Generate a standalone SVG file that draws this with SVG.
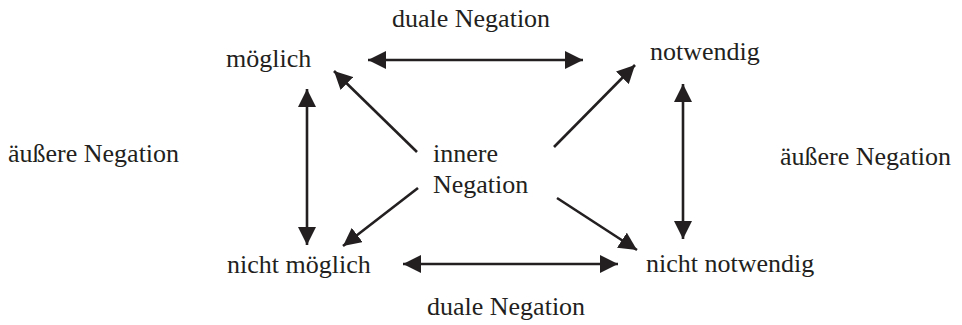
<svg xmlns="http://www.w3.org/2000/svg" width="962" height="325" viewBox="0 0 962 325">
<defs>
<style>
text{font-family:"Liberation Serif","Times New Roman",serif;font-size:26px;fill:#231f20}
.c line{stroke:#231f20;stroke-width:2.6;fill:none}
</style>
<marker id="ah" viewBox="0 0 18 18" refX="18" refY="9" markerWidth="18" markerHeight="18" markerUnits="userSpaceOnUse" orient="auto-start-reverse">
<path d="M0,0 L18,9 L0,18 z" fill="#231f20"/>
</marker>
</defs>
<rect width="962" height="325" fill="#fff"/>
<g id="n-moeglich"><text x="226" y="67">möglich</text></g>
<g id="n-notwendig"><text x="650" y="60">notwendig</text></g>
<g id="n-nicht-moeglich"><text x="227" y="273">nicht möglich</text></g>
<g id="n-nicht-notwendig"><text x="646" y="272">nicht notwendig</text></g>
<g id="n-innere"><text x="433" y="162">innere</text><text x="433" y="193">Negation</text></g>
<g id="l-dual-top"><text x="392" y="27">duale Negation</text></g>
<g id="l-dual-bottom"><text x="427" y="315">duale Negation</text></g>
<g id="l-aeussere-left"><text x="8" y="162">äußere Negation</text></g>
<g id="l-aeussere-right"><text x="780" y="165">äußere Negation</text></g>
<g id="connectors" class="c">
<line x1="368" y1="60" x2="583" y2="60" marker-start="url(#ah)" marker-end="url(#ah)"/>
<line x1="403" y1="264" x2="618" y2="264" marker-start="url(#ah)" marker-end="url(#ah)"/>
<line x1="307" y1="89" x2="307" y2="245" marker-start="url(#ah)" marker-end="url(#ah)"/>
<line x1="683" y1="84" x2="683" y2="239" marker-start="url(#ah)" marker-end="url(#ah)"/>
<line x1="417" y1="152" x2="334" y2="71" marker-end="url(#ah)"/>
<line x1="554" y1="147" x2="635" y2="65" marker-end="url(#ah)"/>
<line x1="418" y1="188" x2="343" y2="246" marker-end="url(#ah)"/>
<line x1="557" y1="198" x2="637" y2="250" marker-end="url(#ah)"/>
</g>
</svg>
